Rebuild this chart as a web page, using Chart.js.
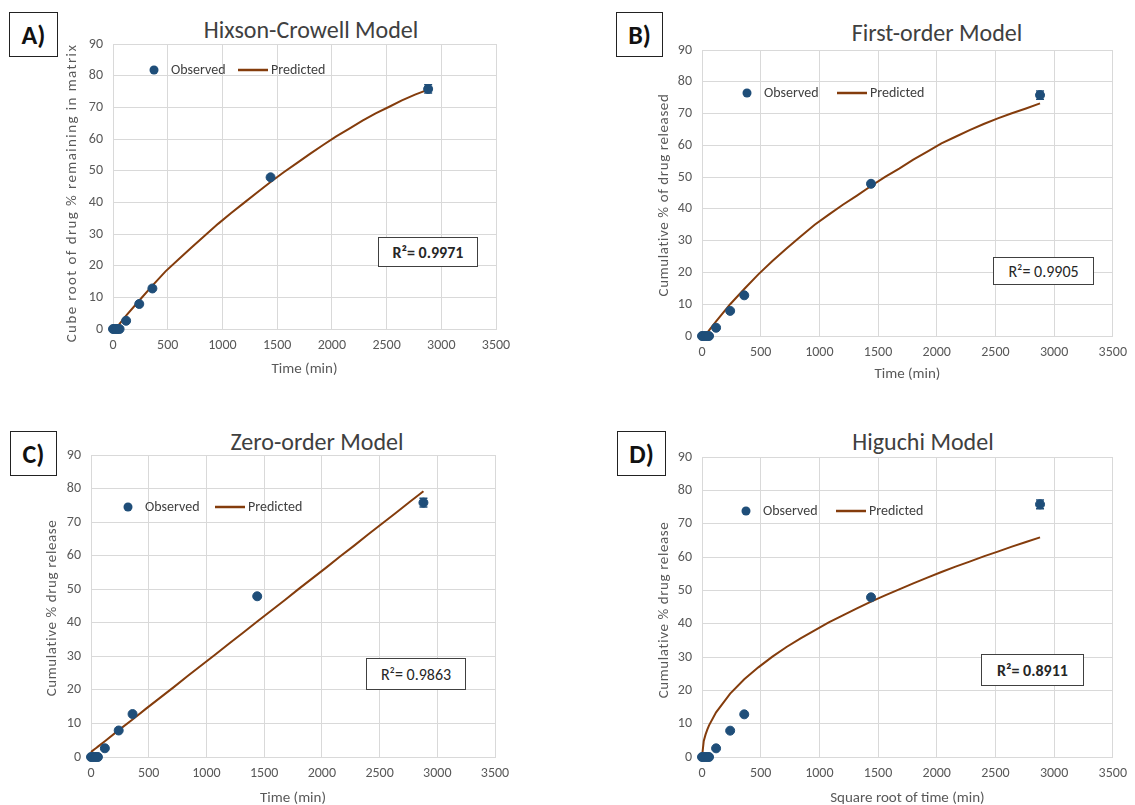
<!DOCTYPE html>
<html lang="en">

<head>
    <meta charset="utf8" />
    <script src="https://cdnjs.cloudflare.com/ajax/libs/Chart.js/4.4.1/chart.umd.min.js"></script>
    <title>Release kinetics models</title>
    <style>
        body {
            margin: 0;
            background: #fff;
            width: 1135px;
            height: 805px;
            position: relative;
            overflow: hidden;
            font-family: Carlito, "Liberation Sans", sans-serif;
        }

        canvas {
            position: absolute;
        }

        .tag {
            position: absolute;
            box-sizing: border-box;
            border: 1.5px solid #222;
            font-size: 26px;
            font-weight: bold;
            color: #111;
            display: flex;
            align-items: center;
            justify-content: center;
        }

        .title {
            position: absolute;
            font-size: 24px;
            line-height: 28px;
            color: #404040;
            white-space: nowrap;
            transform: translateX(-50%);
        }

        .r2 {
            position: absolute;
            box-sizing: border-box;
            border: 1.5px solid #404040;
            background: #fff;
            font-size: 16px;
            color: #262626;
            display: flex;
            align-items: center;
            justify-content: center;
        }
    </style>
</head>

<body>
    <!-- panel tags -->
    <div class="tag" style="left:9px;top:12px;width:49px;height:45px">A)</div>
    <div class="tag" style="left:616px;top:12px;width:47px;height:45px">B)</div>
    <div class="tag" style="left:10px;top:431px;width:47px;height:45px">C)</div>
    <div class="tag" style="left:617px;top:431px;width:49px;height:45px">D)</div>

    <!-- titles -->
    <div class="title" style="left:311px;top:16px">Hixson-Crowell Model</div>
    <div class="title" style="left:937px;top:19px">First-order Model</div>
    <div class="title" style="left:317px;top:428px">Zero-order Model</div>
    <div class="title" style="left:923px;top:428px">Higuchi Model</div>

    <canvas id="chartA" width="567" height="400" style="left:0;top:0"></canvas>
    <canvas id="chartB" width="568" height="400" style="left:567px;top:0"></canvas>
    <canvas id="chartC" width="567" height="405" style="left:0;top:400px"></canvas>
    <canvas id="chartD" width="568" height="405" style="left:567px;top:400px"></canvas>

    <!-- R squared boxes -->
    <div class="r2" style="left:378px;top:237px;width:100px;height:30px;font-weight:bold">R²= 0.9971</div>
    <div class="r2" style="left:993px;top:257px;width:101px;height:28px">R²= 0.9905</div>
    <div class="r2" style="left:366px;top:658px;width:100px;height:32px">R²= 0.9863</div>
    <div class="r2" style="left:981px;top:654px;width:103px;height:32px;font-weight:bold">R²= 0.8911</div>

    <script>
        // observed release (same in every panel)
        const obsTime = [0, 15, 30, 45, 60, 120, 240, 360, 1440, 2880];
        const obsRelease = [0, 0, 0, 0, 0, 2.6, 7.9, 12.8, 47.9, 75.8];
        const obsSD = [0, 0, 0, 0, 0, 0, 0, 0, 0, 1.3];

        // model predictions
        const predTime = [0, 15, 30, 45, 60, 120, 240, 360, 480, 600, 720, 840, 960, 1080, 1200, 1320, 1440,
            1560, 1680, 1800, 1920, 2040, 2160, 2280, 2400, 2520, 2640, 2760, 2880];
        const hixsonPred = [null, null, 0.2, 0.9, 1.6, 4.2, 9.0, 13.7, 18.2, 22.0, 25.8, 29.5, 33.2, 36.6, 39.9, 43.2, 46.4,
            49.5, 52.4, 55.3, 58.1, 60.8, 63.3, 65.8, 68.1, 70.1, 72.2, 74.0, 75.6];
        const firstPred = [null, null, 0.2, 1.0, 1.8, 4.6, 10.0, 14.8, 19.4, 23.6, 27.5, 31.3, 35.0, 38.2, 41.3, 44.2, 47.2,
            50.1, 52.7, 55.5, 58.0, 60.6, 62.7, 64.8, 66.7, 68.5, 70.1, 71.6, 73.2];
        const zeroPred = [1.5, 1.9, 2.3, 2.7, 3.1, 4.7, 8.0, 11.2, 14.5, 17.7, 20.9, 24.2, 27.4, 30.6, 33.9, 37.1, 40.4,
            43.6, 46.8, 50.1, 53.3, 56.5, 59.8, 63.0, 66.3, 69.5, 72.7, 76.0, 79.2];
        const higuchiPred = [0, 4.8, 6.7, 8.2, 9.5, 13.4, 19.0, 23.3, 26.9, 30.1, 33.0, 35.6, 38.0, 40.4, 42.5, 44.6, 46.6,
            48.5, 50.3, 52.1, 53.8, 55.5, 57.1, 58.6, 60.2, 61.6, 63.1, 64.5, 65.9];

        const xTicks = [0, 500, 1000, 1500, 2000, 2500, 3000, 3500];
        const yTicks = [0, 10, 20, 30, 40, 50, 60, 70, 80, 90];

        const BLUE = '#1F4E79';
        const BROWN = '#843C0C';
        const GRID = '#d9d9d9';
        const TEXT = '#595959';
        const FONT = 'Carlito, "Liberation Sans", sans-serif';
        const AXIS_TITLE_SIZE = 15;
        const TICK_SIZE = 14;

        // error bars on observed points
        const errorBars = {
            id: 'errorBars',
            afterDatasetsDraw(chart) {
                const { ctx, scales: { x, y } } = chart;
                ctx.save();
                ctx.strokeStyle = BLUE;
                ctx.lineWidth = 1.5;
                obsTime.forEach((t, i) => {
                    if (!obsSD[i]) return;
                    const px = x.getPixelForValue(t);
                    const top = y.getPixelForValue(obsRelease[i] + obsSD[i]);
                    const bot = y.getPixelForValue(obsRelease[i] - obsSD[i]);
                    ctx.beginPath();
                    ctx.moveTo(px, top); ctx.lineTo(px, bot);
                    ctx.moveTo(px - 4, top); ctx.lineTo(px + 4, top);
                    ctx.moveTo(px - 4, bot); ctx.lineTo(px + 4, bot);
                    ctx.stroke();
                });
                ctx.restore();
            }
        };

        // legend drawn inside plot area + spaced-out y axis title
        const innerLegend = {
            id: 'innerLegend',
            afterDraw(chart, args, opts) {
                const ctx = chart.ctx;
                const mx = opts.x, my = opts.y;
                ctx.save();
                ctx.fillStyle = BLUE;
                ctx.beginPath();
                ctx.arc(mx, my, 4.5, 0, Math.PI * 2);
                ctx.fill();
                ctx.font = '14px ' + FONT;
                ctx.fillStyle = '#404040';
                ctx.textBaseline = 'middle';
                ctx.fillText('Observed', mx + 17, my);
                ctx.strokeStyle = BROWN;
                ctx.lineWidth = 2.5;
                ctx.beginPath();
                ctx.moveTo(mx + opts.gap, my);
                ctx.lineTo(mx + opts.gap + 30, my);
                ctx.stroke();
                ctx.fillText('Predicted', mx + opts.gap + 33, my);
                ctx.restore();

                // y title
                ctx.save();
                ctx.translate(opts.yTitleX, opts.yTitleY);
                ctx.rotate(-Math.PI / 2);
                ctx.font = AXIS_TITLE_SIZE + 'px ' + FONT;
                ctx.letterSpacing = opts.spacing + 'px';
                ctx.fillStyle = TEXT;
                ctx.textAlign = 'center';
                ctx.textBaseline = 'middle';
                ctx.fillText(opts.yTitle, 0, 0);
                ctx.restore();
            }
        };

        function makePanel(id, box, plot, yTitleX, xTitleY, yTitle, xTitle, pred, legend, yt) {
            const half = AXIS_TITLE_SIZE * 0.6;
            const ctx = document.getElementById(id).getContext('2d');
            new Chart(ctx, {
                type: 'scatter',
                data: {
                    datasets: [
                        {
                            label: 'Observed',
                            data: obsTime.map((t, i) => ({ x: t, y: obsRelease[i] })),
                            backgroundColor: BLUE,
                            borderColor: BLUE,
                            pointRadius: 4.5,
                            showLine: false,
                            clip: false
                        },
                        {
                            label: 'Predicted',
                            data: predTime.map((t, i) => ({ x: t, y: pred[i] })),
                            borderColor: BROWN,
                            borderWidth: 2,
                            pointRadius: 0,
                            showLine: true,
                            clip: false
                        }
                    ]
                },
                options: {
                    responsive: false,
                    animation: false,
                    layout: {
                        padding: {
                            left: yTitleX - half - box.l,
                            top: plot.t - box.t,
                            right: box.l + box.w - plot.r,
                            bottom: box.t + box.h - (xTitleY + half)
                        }
                    },
                    scales: {
                        x: {
                            type: 'linear',
                            min: xTicks[0],
                            max: xTicks[xTicks.length - 1],
                            afterBuildTicks: s => { s.ticks = xTicks.map(v => ({ value: v })); },
                            afterFit: s => { s.height = xTitleY + half - plot.b; },
                            grid: { color: GRID, drawTicks: false },
                            border: { color: GRID },
                            ticks: { color: TEXT, font: { family: FONT, size: TICK_SIZE }, padding: 8, callback: v => String(v) },
                            title: { display: true, text: xTitle, color: TEXT, font: { family: FONT, size: AXIS_TITLE_SIZE }, padding: 0 }
                        },
                        y: {
                            type: 'linear',
                            min: yTicks[0],
                            max: yTicks[yTicks.length - 1],
                            afterBuildTicks: s => { s.ticks = yTicks.map(v => ({ value: v })); },
                            afterFit: s => { s.width = plot.l - (yTitleX - half); },
                            grid: { color: GRID, drawTicks: false },
                            border: { color: GRID },
                            ticks: { color: TEXT, font: { family: FONT, size: TICK_SIZE }, padding: 10, callback: v => String(v) },
                            title: { display: false }
                        }
                    },
                    plugins: {
                        legend: { display: false },
                        tooltip: { enabled: false },
                        innerLegend: {
                            x: legend.x - box.l, y: legend.y - box.t, gap: legend.gap,
                            yTitle: yTitle, yTitleX: yTitleX - box.l, yTitleY: yt.y - box.t, spacing: yt.spacing
                        }
                    }
                },
                plugins: [errorBars, innerLegend]
            });
        }

        makePanel('chartA', { l: 0, t: 0, w: 567, h: 400 }, { l: 113, t: 44, r: 496, b: 329 }, 72, 369,
            'Cube root of drug % remaining in matrix', 'Time (min)', hixsonPred, { x: 154, y: 70, gap: 84 },
            { y: 193, spacing: 1.4 });
        makePanel('chartB', { l: 567, t: 0, w: 568, h: 400 }, { l: 702, t: 50, r: 1120, b: 336 }, 664, 374,
            'Cumulative % of drug released', 'Time (min)', firstPred, { x: 747, y: 93, gap: 90 },
            { y: 195, spacing: 0.6 });
        makePanel('chartC', { l: 0, t: 400, w: 567, h: 405 }, { l: 91, t: 455, r: 495, b: 757 }, 52, 798,
            'Cumulative % drug release', 'Time (min)', zeroPred, { x: 128, y: 507, gap: 87 },
            { y: 608, spacing: 0.6 });
        makePanel('chartD', { l: 567, t: 400, w: 568, h: 405 }, { l: 702, t: 457, r: 1120, b: 757 }, 664, 798,
            'Cumulative % drug release', 'Square root of time (min)', higuchiPred, { x: 746, y: 511, gap: 90 },
            { y: 610, spacing: 0.6 });
    </script>
</body>

</html>
